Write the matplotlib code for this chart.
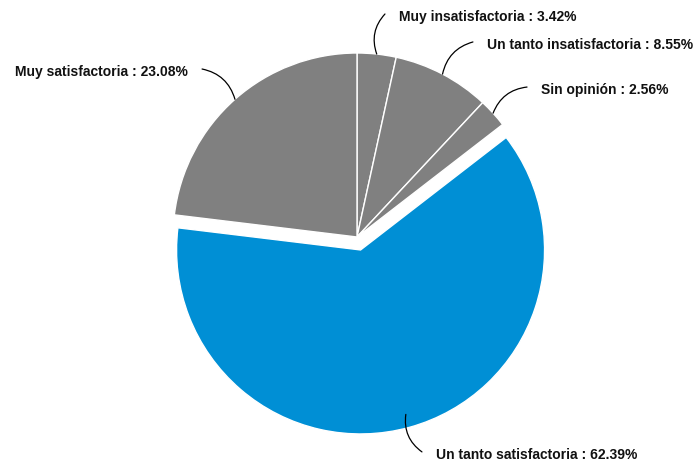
import numpy as np
import matplotlib
matplotlib.use("Agg")
import matplotlib.pyplot as plt

# ===== DATA =====
labels = ["Muy insatisfactoria", "Un tanto insatisfactoria", "Sin opinión",
          "Un tanto satisfactoria", "Muy satisfactoria"]
values = [3.42, 8.55, 2.56, 62.39, 23.08]
colors_ = ["#808080", "#808080", "#808080", "#008FD5", "#808080"]
explode = [0, 0, 0, 0.073, 0]

# label placement (line end point, text side, arc bend)
line_ends = [(0.152, 1.212), (0.630, 1.060), (0.924, 0.815), (0.353, -1.168), (-0.842, 0.913)]
text_side = ["left", "left", "left", "left", "right"]
bends = [0.3, 0.3, 0.3, -0.3, -0.3]

plt.rcParams['font.family'] = ['Liberation Sans', 'DejaVu Sans']

fig = plt.figure(figsize=(6.96, 4.67), dpi=100)
ax = fig.add_axes([0, 0, 1, 1])
ax.axis('off')

wedges, _ = ax.pie(values, colors=colors_, explode=explode, startangle=90,
                   counterclock=False, radius=1.0,
                   wedgeprops=dict(edgecolor='white', linewidth=1))

ax.set_xlim(-357 / 184, (696 - 357) / 184)
ax.set_ylim(-(467 - 237) / 184, 237 / 184)
ax.set_aspect('auto')

# ===== LABELS WITH CURVED LEADER LINES =====
total = sum(values)
start = 90.0
for lab, v, end, side, rad in zip(labels, values, line_ends, text_side, bends):
    sweep = v / total * 360
    mid = np.deg2rad(start - sweep / 2)
    start -= sweep
    edge = (np.cos(mid), np.sin(mid))
    ax.annotate("", xy=edge, xytext=end,
                arrowprops=dict(arrowstyle='-', color='black', lw=0.9,
                                shrinkA=0, shrinkB=0,
                                connectionstyle=f"arc3,rad={rad}"))
    gap = 14 / 184
    tx = end[0] + gap if side == "left" else end[0] - gap
    ax.text(tx, end[1] - 3 / 184, f"{lab} : {v:.2f}%", ha=side, va='center',
            fontsize=10, fontweight='bold', color='#111111')

fig.savefig("out.png", dpi=100)
